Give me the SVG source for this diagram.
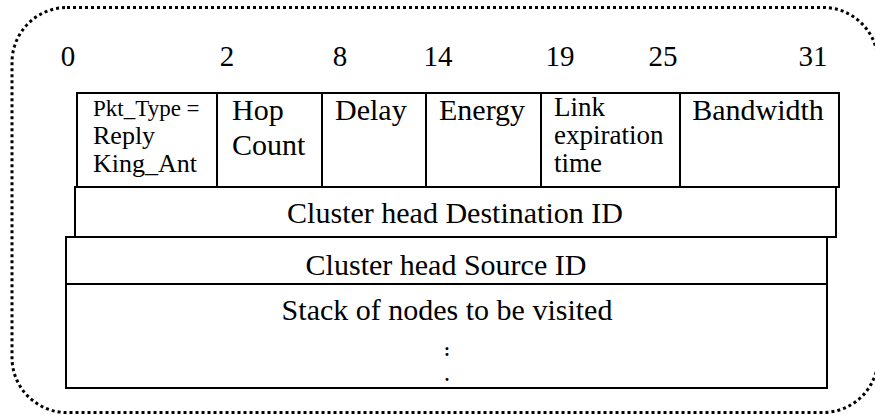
<svg xmlns="http://www.w3.org/2000/svg" width="875" height="415" viewBox="0 0 875 415">
<style>
.box{fill:none;stroke:#000;stroke-width:2}
.t{font-family:'Liberation Serif','DejaVu Serif','Noto Serif',Tinos,'Times New Roman',Times,serif;fill:#000}
.big{font-size:30px}
.sm{font-size:26px}
.lk{font-size:27px}
.num{font-size:29px;text-anchor:middle}
.c{text-anchor:middle}
.dot{font-size:18px;font-weight:bold;text-anchor:middle}
</style>
<rect x="0" y="0" width="875" height="415" fill="#fff"/>
<rect id="frame" x="12" y="7.5" width="866" height="405" rx="55" ry="55" fill="none" stroke="#000" stroke-width="3" stroke-dasharray="3 3"/>
<g id="bit-labels" class="t num">
<text x="68" y="66">0</text>
<text x="227" y="66">2</text>
<text x="340" y="66">8</text>
<text x="438" y="66">14</text>
<text x="560" y="66">19</text>
<text x="663" y="66">25</text>
<text x="813" y="66">31</text>
</g>
<g id="pkt-type">
<rect class="box" x="77" y="93" width="140" height="94"/>
<text class="t" x="93" y="116" font-size="23">Pkt_Type =</text>
<text class="t sm" x="93" y="144">Reply</text>
<text class="t sm" x="93" y="172">King_Ant</text>
</g>
<g id="hop-count">
<rect class="box" x="217" y="93" width="105" height="94"/>
<text class="t big" x="232" y="120">Hop</text>
<text class="t big" x="232" y="155">Count</text>
</g>
<g id="delay">
<rect class="box" x="322" y="93" width="104" height="94"/>
<text class="t big" x="335" y="120">Delay</text>
</g>
<g id="energy">
<rect class="box" x="426" y="93" width="115" height="94"/>
<text class="t big" x="439" y="120">Energy</text>
</g>
<g id="link-expiration">
<rect class="box" x="541" y="93" width="139" height="94"/>
<text class="t lk" x="554" y="116">Link</text>
<text class="t lk" x="554" y="144">expiration</text>
<text class="t lk" x="554" y="172">time</text>
</g>
<g id="bandwidth">
<rect class="box" x="680" y="93" width="159" height="94"/>
<text class="t big c" x="758" y="120">Bandwidth</text>
</g>
<g id="dest-id">
<rect class="box" x="75" y="187" width="761" height="50"/>
<text class="t big c" x="455" y="223">Cluster head Destination ID</text>
</g>
<g id="source-id">
<rect class="box" x="66" y="237" width="761" height="47"/>
<text class="t big c" x="446" y="275">Cluster head Source ID</text>
</g>
<g id="stack">
<rect class="box" x="66" y="284" width="761" height="104"/>
<text class="t big c" x="447" y="320">Stack of nodes to be visited</text>
<text class="t dot" x="447" y="356">:</text>
<text class="t dot" x="447" y="381">.</text>
</g>
<g id="connectors"></g>
</svg>
